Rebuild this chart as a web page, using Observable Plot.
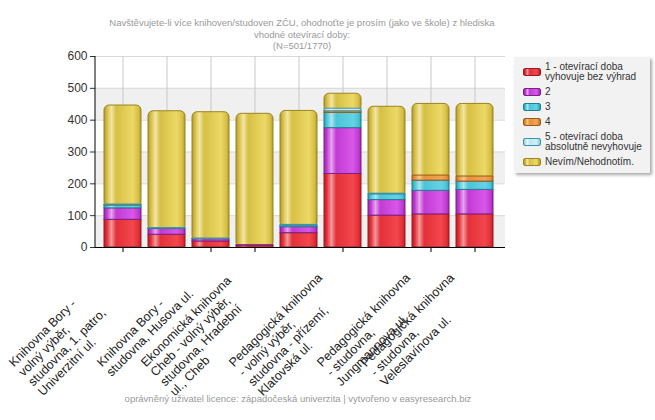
<!DOCTYPE html>
<html><head><meta charset="utf-8">
<script src="https://cdn.jsdelivr.net/npm/d3@7"></script>
<script src="https://cdn.jsdelivr.net/npm/@observablehq/plot@0.6"></script>
<style>
body{margin:0;background:#fff;font-family:"Liberation Sans",Arial,sans-serif;}
#wrap{position:relative;width:655px;height:420px;overflow:hidden;background:#fff}
#title{position:absolute;left:0;width:604px;top:17px;text-align:center;font-size:9.5px;color:#999;line-height:11.5px}
#footer{position:absolute;left:0;width:596px;top:393px;text-align:center;font-size:9.5px;color:#999}
#chart{position:absolute;left:0;top:0}
#legend{position:absolute;left:514px;top:57px;width:136px;height:116px;background:#f2f2f2;box-shadow:2px 2px 3px rgba(0,0,0,0.35);box-sizing:border-box;padding-top:2px}
.item{display:flex;align-items:center;padding:2.5px 0 2.5px 9px;font-size:10px;color:#333;line-height:10px}
.sw{width:18px;height:8px;border-radius:2px;margin-right:4px;flex:none;box-sizing:border-box;border:1px solid}
.lt{width:104px}
</style></head>
<body>
<div id="wrap">
  <div id="footer"></div>
  <div id="chart"></div>
  <div id="title"></div>
  <div id="legend"></div>
</div>
<script>
const titleLines = ["Navštěvujete-li více knihoven/studoven ZČU, ohodnoťte je prosím (jako ve škole) z hlediska", "vhodné otevírací doby:", "(N=501/1770)"];
const footerText = "oprávněný uživatel licence: západočeská univerzita | vytvořeno v easyresearch.biz";

// category axis labels (empty = label not shown in the original)
const xLabels = [
  "Knihovna Bory -\nvolný výběr,\nstudovna, 1. patro,\nUniverzitní ul.",
  "",
  "Knihovna Bory -\nstudovna, Husova ul.",
  "Ekonomická knihovna\nCheb - volný výběr,\nstudovna, Hradební\nul., Cheb",
  "",
  "Pedagogická knihovna\n- volný výběr,\nstudovna - přízemí,\nKlatovská ul.",
  "",
  "Pedagogická knihovna\n- studovna,\nJungmannova ul.",
  "Pedagogická knihovna\n- studovna,\nVeleslavínova ul."
];

const seriesNames = ["1 - otevírací doba vyhovuje bez výhrad", "2", "3", "4", "5 - otevírací doba absolutně nevyhovuje", "Nevím/Nehodnotím."];
const s1 = [87, 40, 19, 6, 45, 231, 100, 104, 104];
const s2 = [36, 18, 7, 1, 19, 144, 49, 74, 77];
const s3 = [9, 2, 1, 0, 4, 48, 18, 32, 26];
const s4 = [1, 0, 0, 0, 0, 5, 0, 16, 16];
const s5 = [2, 1, 1, 0, 3, 8, 2, 0, 0];
const s6 = [311, 367, 397, 413, 358, 47, 273, 225, 228];
const yTicks = [0, 100, 200, 300, 400, 500, 600];

const seriesValues = [s1, s2, s3, s4, s5, s6];
// colour styles: [dark edge, base, highlight, bright, stroke]
const pal = [
  ["#b81c24", "#e43038", "#f29a9c", "#f2474d", "#9a1a1f"],
  ["#9a2aab", "#c23bd4", "#e6a6ee", "#d857e8", "#7b1f8a"],
  ["#2a9db3", "#4cc4d8", "#a9e6f0", "#64d3e4", "#1f7f93"],
  ["#c27420", "#e8903a", "#f5c794", "#f2a656", "#9a5a14"],
  ["#8cc8d6", "#bde6ef", "#e8f7fa", "#cdeef4", "#3a93a8"],
  ["#b09a2a", "#d6bf45", "#f3e6a2", "#ecd966", "#9c8420"]
];

const idx = d3.range(xLabels.length);
const shown = idx.filter(i => xLabels[i] !== "");
const rows = [];
idx.forEach(i => {
  let cum = 0;
  seriesValues.forEach((arr, s) => {
    const v = arr[i];
    rows.push({i, s, v, y1: cum, y2: cum + v});
    cum += v;
  });
});
const bandStarts = yTicks.filter((t, k) => k % 2 === 0 && t < 600);

const marks = [
  Plot.rect(bandStarts, {y1: d => d, y2: d => d + 100, fill: "#f0f0f0"}),
  Plot.ruleY(yTicks, {stroke: "#d9d9d9"}),
  Plot.gridX(idx, {stroke: "#c8c8c8", strokeOpacity: 1}),
  // top (Nevím) segments, rounded, extended down under the others
  Plot.barY(rows.filter(r => r.s === 5 && r.v > 0), {
    x: "i", y1: d => Math.max(0, d.y1 - 8), y2: "y2", rx: 5,
    fill: "url(#grad5)", stroke: pal[5][4], strokeWidth: 1
  }),
  ...[0, 1, 2, 3, 4].map(s => Plot.barY(rows.filter(r => r.s === s && r.v > 0), {
    x: "i", y1: "y1", y2: "y2", fill: `url(#grad${s})`, stroke: pal[s][4], strokeWidth: 1
  })),
  Plot.ruleY([0], {stroke: "#000", strokeWidth: 1.2}),
  Plot.axisX({ticks: shown, tickSize: 5, tickFormat: () => "", stroke: "#000", label: null}),
  Plot.axisY({ticks: yTicks, tickSize: 5, tickPadding: 3, fontSize: 12, color: "#333", label: null}),
  Plot.text(shown.map(i => ({i, label: xLabels[i]})), {
    x: "i", text: "label", frameAnchor: "bottom", textAnchor: "start", lineAnchor: "top",
    rotate: -45, dx: -116, dy: 113, fontSize: 12.5, fill: "#222", lineHeight: 1.1
  })
];

const svg = Plot.plot({
  width: 655, height: 420,
  marginLeft: 95, marginRight: 150, marginTop: 56, marginBottom: 173,
  x: {type: "band", domain: idx, range: [97.6, 500.4], paddingInner: 0.15, paddingOuter: 0.075, axis: null, label: null},
  y: {domain: [0, 600], axis: null, label: null},
  style: {fontFamily: "'Liberation Sans', Arial, sans-serif", background: "transparent", color: "#000"},
  marks
});

const ns = "http://www.w3.org/2000/svg";
const defs = document.createElementNS(ns, "defs");
defs.innerHTML = pal.map((p, s) => `
  <linearGradient id="grad${s}" x1="0" x2="1" y1="0" y2="0">
    <stop offset="0" stop-color="${p[0]}"/>
    <stop offset="0.08" stop-color="${p[1]}"/>
    <stop offset="0.2" stop-color="${p[2]}"/>
    <stop offset="0.33" stop-color="${p[1]}"/>
    <stop offset="0.78" stop-color="${p[3]}"/>
    <stop offset="0.93" stop-color="${p[1]}"/>
    <stop offset="1" stop-color="${p[0]}"/>
  </linearGradient>`).join("");
svg.insertBefore(defs, svg.firstChild);
// y axis line along the left edge of the frame
const yl = document.createElementNS(ns, "line");
svg.appendChild(yl);
yl.setAttribute("x1", 95); yl.setAttribute("x2", 95);
yl.setAttribute("y1", 56); yl.setAttribute("y2", 247);
yl.setAttribute("stroke", "#000");
document.getElementById("chart").appendChild(svg);

document.getElementById("title").innerHTML = titleLines.join("<br>");
document.getElementById("footer").textContent = footerText;
const lg = document.getElementById("legend");
seriesNames.forEach((n, s) => {
  const it = document.createElement("div");
  it.className = "item";
  const sw = document.createElement("div");
  sw.className = "sw";
  sw.style.background = `linear-gradient(to right, ${pal[s][0]}, ${pal[s][1]} 10%, ${pal[s][2]} 22%, ${pal[s][1]} 35%, ${pal[s][3]} 78%, ${pal[s][0]})`;
  sw.style.borderColor = pal[s][4];
  const t = document.createElement("div");
  t.className = "lt";
  t.textContent = n;
  it.appendChild(sw); it.appendChild(t);
  lg.appendChild(it);
});
</script>
</body></html>
